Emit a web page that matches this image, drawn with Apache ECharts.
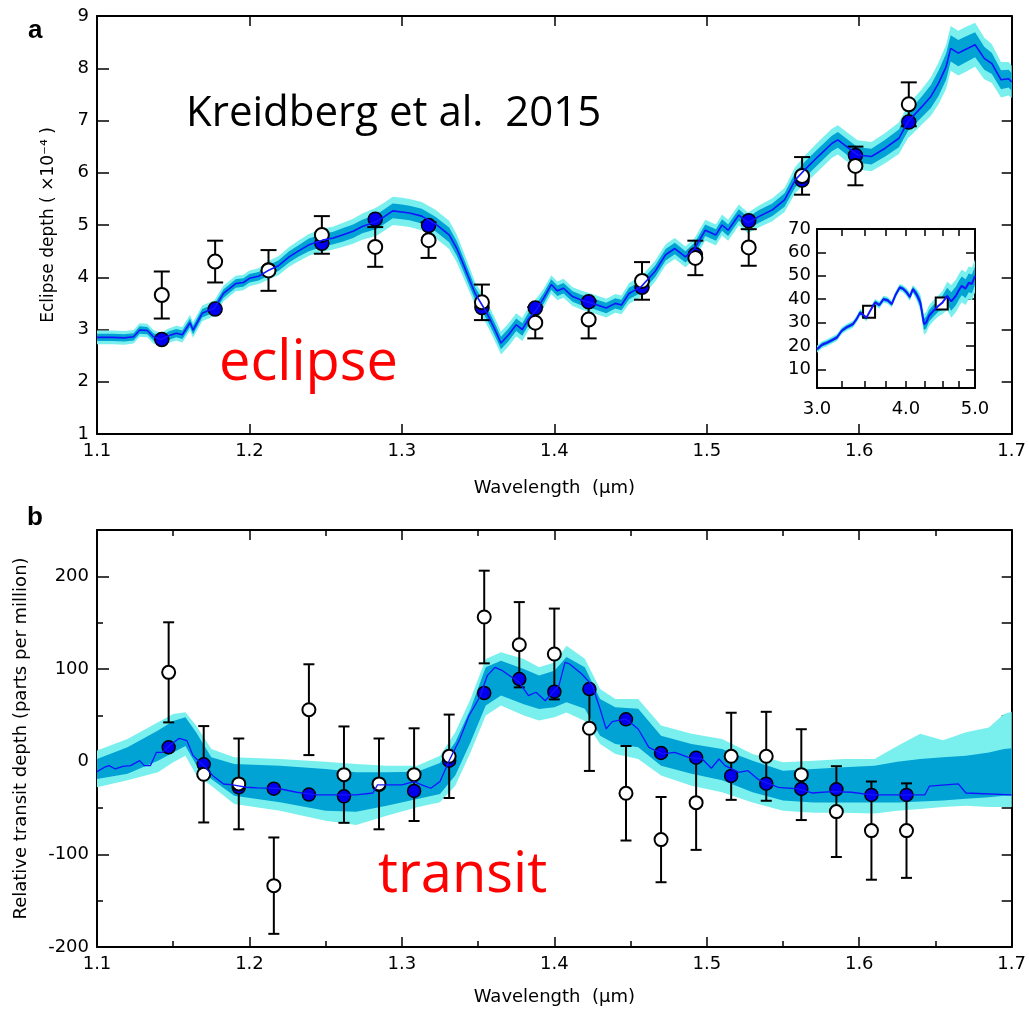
<!DOCTYPE html>
<html>
<head>
<meta charset="utf-8">
<script src="https://cdn.jsdelivr.net/npm/echarts@6/dist/echarts.min.js"></script>
<style>
  html, body { margin: 0; padding: 0; background: #fff; }
  #chart { width: 1029px; height: 1014px; }
</style>
</head>
<body>
<div id="chart"></div>
<script>
// panel a: eclipse depth model (x 1e-4)
const topModelWl = [1.100,1.110,1.118,1.124,1.128,1.133,1.137,1.142,1.147,1.152,
  1.156,1.161,1.163,1.169,1.177,1.183,1.191,1.196,1.200,1.206,
  1.213,1.219,1.226,1.232,1.239,1.248,1.255,1.261,1.268,1.274,
  1.283,1.288,1.294,1.300,1.305,1.313,1.322,1.331,1.336,1.340,
  1.348,1.353,1.357,1.361,1.365,1.370,1.375,1.379,1.383,1.388,
  1.393,1.398,1.402,1.406,1.412,1.418,1.425,1.434,1.440,1.444,
  1.449,1.457,1.466,1.473,1.479,1.486,1.492,1.499,1.506,1.510,
  1.514,1.521,1.527,1.534,1.543,1.551,1.558,1.564,1.573,1.582,
  1.586,1.593,1.599,1.608,1.617,1.626,1.632,1.641,1.647,1.652,
  1.657,1.660,1.665,1.669,1.676,1.682,1.687,1.693,1.698,1.700];
const topModel = [2.85,2.85,2.84,2.86,2.99,2.98,2.86,2.81,2.88,2.93,
  2.90,3.13,2.99,3.31,3.41,3.69,3.88,3.90,3.98,4.02,
  4.14,4.22,4.39,4.50,4.62,4.71,4.75,4.81,4.88,4.97,
  5.06,5.15,5.27,5.25,5.23,5.17,5.02,4.81,4.55,4.27,
  3.69,3.45,3.24,3.00,2.74,2.90,3.09,3.00,3.20,3.37,
  3.60,3.86,3.74,3.79,3.63,3.56,3.50,3.41,3.50,3.47,
  3.69,3.82,4.11,4.43,4.55,4.39,4.55,4.90,4.81,5.00,
  4.90,5.19,5.04,5.16,5.29,5.48,5.86,6.05,6.31,6.56,
  6.63,6.47,6.34,6.31,6.47,6.66,6.98,7.26,7.46,7.71,
  8.03,8.38,8.29,8.35,8.45,8.19,8.09,7.78,7.80,7.74];
// half widths of the 1 sigma (dark) and 2 sigma (light) bands
const topSig1 = [0.07,0.07,0.07,0.07,0.07,0.07,0.07,0.07,0.08,0.08,
  0.08,0.08,0.08,0.08,0.08,0.08,0.08,0.08,0.08,0.08,
  0.10,0.10,0.11,0.11,0.12,0.12,0.12,0.13,0.13,0.13,
  0.14,0.14,0.14,0.14,0.14,0.14,0.14,0.14,0.14,0.13,
  0.12,0.12,0.12,0.12,0.12,0.12,0.12,0.12,0.12,0.12,
  0.10,0.10,0.10,0.10,0.10,0.10,0.10,0.10,0.10,0.10,
  0.11,0.11,0.11,0.11,0.11,0.11,0.11,0.11,0.11,0.11,
  0.11,0.11,0.11,0.12,0.12,0.13,0.14,0.15,0.15,0.15,
  0.15,0.15,0.15,0.15,0.16,0.17,0.18,0.20,0.22,0.24,
  0.25,0.25,0.25,0.25,0.24,0.22,0.20,0.18,0.17,0.17];
const topSig2 = [0.13,0.13,0.13,0.13,0.13,0.13,0.13,0.13,0.14,0.14,
  0.15,0.15,0.15,0.15,0.15,0.15,0.15,0.15,0.15,0.15,
  0.18,0.18,0.19,0.20,0.21,0.22,0.22,0.23,0.24,0.25,
  0.27,0.27,0.27,0.27,0.27,0.27,0.27,0.27,0.27,0.25,
  0.22,0.22,0.22,0.22,0.22,0.22,0.22,0.22,0.22,0.22,
  0.18,0.18,0.18,0.18,0.18,0.18,0.18,0.18,0.18,0.18,
  0.20,0.20,0.20,0.20,0.20,0.20,0.20,0.20,0.20,0.20,
  0.20,0.20,0.20,0.21,0.22,0.23,0.25,0.27,0.28,0.28,
  0.28,0.28,0.28,0.28,0.29,0.30,0.32,0.34,0.37,0.40,
  0.42,0.43,0.43,0.43,0.42,0.40,0.37,0.34,0.32,0.31];

const eclWl = [1.1425,1.1775,1.2125,1.2475,1.2825,1.3175,1.3525,1.3875,1.4225,1.4575,1.4925,1.5275,1.5625,1.5975,1.6325];
const eclObs = [3.66,4.30,4.13,4.81,4.58,4.71,3.52,3.13,3.19,3.93,4.37,4.57,5.94,6.13,7.31];
const eclErr = [0.45,0.40,0.39,0.36,0.38,0.34,0.34,0.30,0.36,0.36,0.33,0.35,0.36,0.37,0.42];
const eclBinned = [2.81,3.39,4.14,4.65,5.11,4.99,3.42,3.41,3.53,3.81,4.43,5.08,5.86,6.33,6.97];

// inset: Spitzer range
const insetWl = [3.00,3.05,3.10,3.15,3.20,3.25,3.30,3.37,3.41,3.45,
  3.52,3.57,3.62,3.67,3.72,3.77,3.82,3.87,3.92,3.96,
  4.01,4.05,4.09,4.14,4.19,4.24,4.27,4.31,4.37,4.44,
  4.50,4.57,4.63,4.70,4.75,4.79,4.85,4.90,4.95,5.00];
const insetModel = [18.6,20.5,21.4,22.5,23.6,26.5,27.9,29.3,31.5,34.3,
  32.1,35.5,38.6,37.5,40.0,39.5,37.9,42.0,45.0,44.5,
  42.9,41.0,44.3,42.0,38.6,29.3,30.0,32.9,35.0,37.1,
  38.5,41.4,39.0,41.4,44.0,45.7,44.5,47.0,46.5,50.0];
const insetSig1 = [0.8,0.8,0.8,0.8,0.8,0.8,0.8,0.8,0.8,0.8,
  0.8,0.8,0.8,0.8,0.8,0.8,0.8,0.8,0.8,0.8,
  1,1,1,1.5,2,2.5,2.5,2.5,2.5,2.5,
  3,3.5,4,4,4,4,4,4,4,4];
const insetSig2 = [1.5,1.5,1.5,1.5,1.5,1.5,1.5,1.5,1.5,1.5,
  1.5,1.5,1.5,1.5,1.5,1.5,1.5,1.5,1.5,1.5,
  1.8,1.8,1.8,2.5,3.5,4.5,4.5,4.5,4.5,4.5,
  5,6,7,7,7,7,7,7,7,7];
const spitzerWl = [3.55,4.49];
const spitzerObs = [34.6,38.1];

// panel b: transit depth model (ppm)
const botModelWl = [1.100,1.105,1.108,1.112,1.117,1.122,1.128,1.131,1.135,1.139,
  1.143,1.148,1.154,1.159,1.163,1.170,1.176,1.183,1.189,1.198,
  1.205,1.218,1.231,1.244,1.257,1.270,1.281,1.284,1.300,1.308,
  1.313,1.319,1.325,1.331,1.338,1.344,1.351,1.356,1.361,1.366,
  1.370,1.377,1.383,1.388,1.394,1.400,1.403,1.407,1.410,1.414,
  1.418,1.425,1.430,1.434,1.438,1.447,1.455,1.462,1.471,1.479,
  1.488,1.497,1.503,1.508,1.512,1.521,1.527,1.534,1.547,1.560,
  1.569,1.582,1.595,1.608,1.621,1.643,1.646,1.665,1.670,1.700];
const botModel = [-10.8,-6,-4.3,-7.9,-5,-4.3,1.1,-4.3,-4.3,10.1,
  10.1,18,25.2,22.7,6.5,-4.3,-15.1,-24.1,-25.1,-27.6,
  -28.3,-28.7,-33,-35.9,-35.9,-35.9,-33.8,-25,-25.1,-21.5,
  -25,-28.7,-21.5,1.1,24.5,49.6,69.5,92.8,101.8,98.2,
  93.5,85.6,71.2,74.9,65.8,76.6,82,107.2,105.4,100,
  94.6,82,56.9,35.3,43.2,46.1,35.3,15.5,8.3,10.1,
  4.7,2.9,-7.1,2.9,-4.3,-11.5,-9.7,-19.4,-27.7,-29.4,
  -33.8,-32.3,-33,-35.9,-35.9,-35.9,-26.5,-24,-33.8,-35.9];
const botBandWl = [1.100,1.120,1.140,1.150,1.158,1.165,1.175,1.190,1.220,1.250,
  1.270,1.290,1.310,1.325,1.335,1.345,1.355,1.365,1.380,1.390,
  1.400,1.408,1.420,1.430,1.440,1.455,1.470,1.490,1.510,1.530,
  1.550,1.570,1.590,1.610,1.625,1.640,1.655,1.670,1.685,1.695,1.700];
const botHi2 = [12,24.5,42.5,51.5,53.3,39,13.7,4.7,2.9,0,
  -2.5,-4.3,-4.3,6.5,31.7,67.7,110.9,118,110.9,102,
  107,125,111,78.5,67.7,67.7,38.9,30,24.5,8.3,
  -0.7,1,2.9,2.9,17,30,23,31.7,37,51.5,54];
const botHi1 = [2.9,15.5,33.5,44,48,31.7,4.7,-2.5,-4.3,-7.9,
  -11.5,-11.5,-10.8,-1.4,20.9,56.9,101.9,109,100,92.9,
  98,113,102,67.7,58.7,57,28,19,13.7,1,
  -9.7,-8,-6,-4.3,0,3,4.7,6.5,10,13.7,14.4];
const botLo1 = [-18.7,-13,1.1,10,17,-3,-18.7,-36.7,-43.9,-52.9,
  -54,-47.5,-40.3,-34.8,-15,20.9,60.5,71.3,62,56.9,
  58.7,64,57,28,19,15.5,-4.3,-13,-20,-33,
  -42,-44,-44,-44,-44,-43,-42,-40,-38.5,-36.7,-36.7];
const botLo2 = [-27.6,-20,-11.5,-0.7,6.5,-14,-25.9,-45.7,-52.9,-63.7,
  -68.3,-58.3,-49.3,-43.9,-25.9,10,49.7,60.5,49.7,44.3,
  47.9,53,44,19,8.3,2.9,-15,-26,-33,-44,
  -53,-55,-55,-56,-53,-51,-49,-47.5,-49,-49,-49];

const trWl = [1.147,1.170,1.193,1.216,1.239,1.262,1.285,1.308,1.331,1.354,1.377,
  1.400,1.423,1.447,1.470,1.493,1.516,1.539,1.562,1.585,1.608,1.631];
const trObs = [96.4,-13.6,-24,-133.8,56.1,-14,-24,-14,5.8,156.1,126.2,
  116.2,36,-34.1,-84.1,-44.2,5.8,5.8,-14,-53.9,-74.4,-74.4];
const trErr = [54,52,49,52,49,52,49,50,45,50,46,
  49,46,51,46,51,47,48,49,49,53,51];
const trBinned = [15.5,-2.9,-27.7,-29.1,-35.5,-37.4,-25,-31.6,1.1,74.1,89.2,
  75.5,78.4,45.7,9.4,4.3,-15.4,-23.7,-29.4,-29.8,-35.9,-35.9];

const FONT = 'DejaVu Sans';
const DARK = '#00a3d4';
const LIGHT = '#7af0ee';
const LINE = '#1414ff';
const DOT = '#0000ee';

function zip(xs, ys) { return xs.map((x, i) => [x, ys[i]]); }

function axis(o) {
  return {
    type: o.type || 'value',
    gridIndex: o.grid,
    position: o.pos,
    min: o.min, max: o.max, interval: o.interval,
    name: o.name || '',
    nameLocation: 'middle',
    nameGap: o.nameGap || 0,
    nameTextStyle: { color: '#000', fontSize: o.nfs || 18, fontFamily: FONT },
    splitLine: { show: false },
    axisLine: { show: o.line !== false, onZero: false, lineStyle: { color: '#000', width: 2 } },
    axisTick: { show: true, inside: true, length: o.tick || 10, customValues: o.ticks,
      lineStyle: { color: '#000', width: 1.5 } },
    minorTick: { show: !!o.minor, splitNumber: 2, length: 6, lineStyle: { color: '#000', width: 1.5 } },
    axisLabel: { show: !!o.label, color: '#000', fontSize: o.fs || 18, fontFamily: FONT,
      margin: o.margin || 8, customValues: o.labels, formatter: o.fmt }
  };
}

function band(xi, yi, xs, lo, hi, color) {
  return {
    type: 'custom', xAxisIndex: xi, yAxisIndex: yi, silent: true,
    data: xs.map((x, i) => [x, lo[i], hi[i]]),
    encode: { x: 0, y: [1, 2] },
    renderItem: function (params, api) {
      if (params.dataIndex !== 0) return null;
      const up = xs.map((x, i) => api.coord([x, hi[i]]));
      const dn = xs.map((x, i) => api.coord([x, lo[i]])).reverse();
      return { type: 'polygon', shape: { points: up.concat(dn) }, style: { fill: color } };
    }
  };
}

function errBars(xi, yi, xs, ys, errs, cap) {
  return {
    type: 'custom', xAxisIndex: xi, yAxisIndex: yi, silent: true,
    data: xs.map((x, i) => [x, ys[i] - errs[i], ys[i] + errs[i]]),
    encode: { x: 0, y: [1, 2] },
    renderItem: function (params, api) {
      const a = api.coord([api.value(0), api.value(1)]);
      const b = api.coord([api.value(0), api.value(2)]);
      const st = { stroke: '#000', lineWidth: 2 };
      return { type: 'group', children: [
        { type: 'line', shape: { x1: a[0], y1: a[1], x2: b[0], y2: b[1] }, style: st },
        { type: 'line', shape: { x1: a[0] - cap / 2, y1: a[1], x2: a[0] + cap / 2, y2: a[1] }, style: st },
        { type: 'line', shape: { x1: b[0] - cap / 2, y1: b[1], x2: b[0] + cap / 2, y2: b[1] }, style: st }
      ] };
    }
  };
}

function dots(xi, yi, xs, ys, fill, size, bw, symbol) {
  return {
    type: 'scatter', xAxisIndex: xi, yAxisIndex: yi, silent: true,
    symbol: symbol || 'circle', symbolSize: size,
    itemStyle: { color: fill, borderColor: '#000', borderWidth: bw, opacity: 1 },
    data: zip(xs, ys)
  };
}

function line(xi, yi, xs, ys, w) {
  return {
    type: 'line', xAxisIndex: xi, yAxisIndex: yi, silent: true, showSymbol: false,
    lineStyle: { color: LINE, width: w }, data: zip(xs, ys)
  };
}

const f1 = v => v.toFixed(1);
const topLo2 = topModel.map((v, i) => v - topSig2[i]), topHi2 = topModel.map((v, i) => v + topSig2[i]);
const topLo1 = topModel.map((v, i) => v - topSig1[i]), topHi1 = topModel.map((v, i) => v + topSig1[i]);
const inLo2 = insetModel.map((v, i) => v - insetSig2[i]), inHi2 = insetModel.map((v, i) => v + insetSig2[i]);
const inLo1 = insetModel.map((v, i) => v - insetSig1[i]), inHi1 = insetModel.map((v, i) => v + insetSig1[i]);

const chart = echarts.init(document.getElementById('chart'));
chart.setOption({
  animation: false,
  backgroundColor: '#fff',
  textStyle: { fontFamily: FONT },
  grid: [
    { left: 97, top: 16, width: 917, height: 418 },
    { left: 97, top: 530, width: 917, height: 417 },
    { left: 817, top: 229, width: 158, height: 159, show: true, backgroundColor: '#fff', borderWidth: 0 }
  ],
  xAxis: [
    axis({ grid: 0, pos: 'bottom', min: 1.1, max: 1.7, interval: 0.1, label: true, fmt: f1,
      name: 'Wavelength  (μm)', nameGap: 45 }),
    axis({ grid: 0, pos: 'top', min: 1.1, max: 1.7, interval: 0.1 }),
    axis({ grid: 1, pos: 'bottom', min: 1.1, max: 1.7, interval: 0.1, minor: true, label: true, fmt: f1,
      name: 'Wavelength  (μm)', nameGap: 41 }),
    axis({ grid: 1, pos: 'top', min: 1.1, max: 1.7, interval: 0.1, minor: true }),
    axis({ grid: 2, type: 'log', pos: 'bottom', min: 3, max: 5, tick: 7,
      ticks: [3.25, 3.5, 3.75, 4, 4.25, 4.5, 4.75], label: true, labels: [3, 4, 5], fmt: f1, margin: 12 }),
    axis({ grid: 2, type: 'log', pos: 'top', min: 3, max: 5, tick: 7,
      ticks: [3.25, 3.5, 3.75, 4, 4.25, 4.5, 4.75] })
  ],
  yAxis: [
    axis({ grid: 0, pos: 'left', min: 1, max: 9, interval: 1, tick: 12, label: true,
      name: 'Eclipse depth ( ×10⁻⁴ )', nameGap: 40, nfs: 17 }),
    axis({ grid: 0, pos: 'right', min: 1, max: 9, interval: 1 }),
    axis({ grid: 1, pos: 'left', min: -200, max: 250, interval: 50, tick: 6, label: true,
      labels: [-200, -100, 0, 100, 200], name: 'Relative transit depth (parts per million)', nameGap: 67 }),
    axis({ grid: 1, pos: 'left', min: -200, max: 250, interval: 50, tick: 12, line: false,
      ticks: [-200, -100, 0, 100, 200] }),
    axis({ grid: 1, pos: 'right', min: -200, max: 250, interval: 50 }),
    axis({ grid: 2, pos: 'left', min: 2, max: 70, tick: 9, ticks: [10, 20, 30, 40, 50, 60, 70],
      label: true, labels: [10, 20, 30, 40, 50, 60, 70], margin: 6 }),
    axis({ grid: 2, pos: 'right', min: 2, max: 70, tick: 9, ticks: [10, 20, 30, 40, 50, 60] })
  ],
  series: [
    band(0, 0, topModelWl, topLo2, topHi2, LIGHT),
    band(0, 0, topModelWl, topLo1, topHi1, DARK),
    line(0, 0, topModelWl, topModel, 1.6),
    dots(0, 0, eclWl, eclBinned, DOT, 14, 1.5),
    errBars(0, 0, eclWl, eclObs, eclErr, 16),
    dots(0, 0, eclWl, eclObs, '#fff', 14, 2),

    band(2, 2, botBandWl, botLo2, botHi2, LIGHT),
    band(2, 2, botBandWl, botLo1, botHi1, DARK),
    line(2, 2, botModelWl, botModel, 1.3),
    dots(2, 2, trWl, trBinned, DOT, 13, 1.5),
    errBars(2, 2, trWl, trObs, trErr, 11),
    dots(2, 2, trWl, trObs, '#fff', 13, 2),

    band(4, 5, insetWl, inLo2, inHi2, LIGHT),
    band(4, 5, insetWl, inLo1, inHi1, DARK),
    line(4, 5, insetWl, insetModel, 2),
    dots(4, 5, spitzerWl, spitzerObs, '#fff', 12, 2, 'rect')
  ],
  graphic: [
    { type: 'text', x: 28, y: 31, style: { text: 'a', fill: '#000', fontSize: 26, fontWeight: 'bold',
      fontFamily: 'Liberation Sans', align: 'left', verticalAlign: 'middle' } },
    { type: 'text', x: 27, y: 518, style: { text: 'b', fill: '#000', fontSize: 26, fontWeight: 'bold',
      fontFamily: 'Liberation Sans', align: 'left', verticalAlign: 'middle' } },
    { type: 'text', x: 186, y: 114, style: { text: 'Kreidberg et al.  2015', fill: '#000', fontSize: 42,
      fontFamily: 'Open Sans', align: 'left', verticalAlign: 'middle' } },
    { type: 'text', x: 219, y: 364, style: { text: 'eclipse', fill: '#ff0000', fontSize: 56,
      fontFamily: 'Open Sans', align: 'left', verticalAlign: 'middle' } },
    { type: 'text', x: 378, y: 876, style: { text: 'transit', fill: '#ff0000', fontSize: 56,
      fontFamily: 'Open Sans', align: 'left', verticalAlign: 'middle' } }
  ]
});
</script>
</body>
</html>
